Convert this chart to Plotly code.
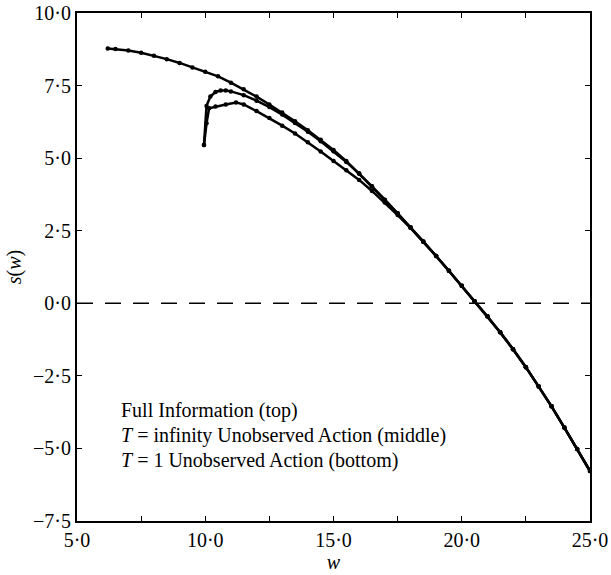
import plotly.graph_objects as go

# wage grid and s(w) for the three information structures
w_full = [6.2, 6.5, 7.0, 7.5, 8.0, 8.5, 9.0, 9.5, 10.0, 10.5, 11.0, 11.5, 12.0, 12.5,
          13.0, 13.5, 14.0, 14.5, 15.0, 15.5, 16.0, 16.5, 17.0, 17.5, 18.0, 18.5,
          19.0, 19.5, 20.0, 20.5, 21.0, 21.5, 22.0, 22.5, 23.0, 23.5, 24.0, 24.5, 25.0]
s_full = [8.78, 8.76, 8.71, 8.63, 8.53, 8.41, 8.28, 8.12, 7.98, 7.82, 7.60, 7.37, 7.12, 6.85,
          6.57, 6.27, 5.96, 5.63, 5.28, 4.90, 4.48, 4.03, 3.57, 3.10, 2.62, 2.13,
          1.63, 1.12, 0.60, 0.07, -0.45, -1.00, -1.58, -2.20, -2.87, -3.55, -4.28, -5.02, -5.78]

w_inf = [9.95, 10.05, 10.2, 10.4, 10.6, 10.8, 11.0, 11.5, 12.0, 12.5, 13.0, 13.5, 14.0,
         14.5, 15.0, 15.5, 16.0, 16.5, 17.0, 17.5, 18.0, 18.5, 19.0, 19.5, 20.0, 20.5,
         21.0, 21.5, 22.0, 22.5, 23.0, 23.5, 24.0, 24.5, 25.0]
s_inf = [5.45, 6.80, 7.12, 7.28, 7.33, 7.33, 7.30, 7.17, 6.98, 6.76, 6.50, 6.21, 5.91,
         5.58, 5.24, 4.87, 4.46, 4.02, 3.56, 3.10, 2.62, 2.13, 1.63, 1.12, 0.60, 0.07,
         -0.45, -1.00, -1.58, -2.20, -2.87, -3.55, -4.28, -5.02, -5.78]

w_one = [9.95, 10.05, 10.15, 10.4, 10.8, 11.2, 11.5, 12.0, 12.5, 13.0, 13.5, 14.0, 14.5,
         15.0, 15.5, 16.0, 16.5, 17.0, 17.5, 18.0, 18.5, 19.0, 19.5, 20.0, 20.5,
         21.0, 21.5, 22.0, 22.5, 23.0, 23.5, 24.0, 24.5, 25.0]
s_one = [5.45, 6.20, 6.72, 6.78, 6.85, 6.92, 6.85, 6.62, 6.38, 6.12, 5.85, 5.55, 5.23,
         4.90, 4.58, 4.25, 3.87, 3.47, 3.04, 2.60, 2.12, 1.63, 1.12, 0.60, 0.07,
         -0.45, -1.00, -1.58, -2.20, -2.87, -3.55, -4.28, -5.02, -5.78]

x_ticks = [5, 7.5, 10, 12.5, 15, 17.5, 20, 22.5, 25]
x_ticktext = ["5·0", "", "10·0", "", "15·0", "", "20·0", "", "25·0"]
y_ticks = [-7.5, -5, -2.5, 0, 2.5, 5, 7.5, 10]
y_ticktext = ["\u22127·5", "\u22125·0", "\u22122·5", "0·0", "2·5", "5·0", "7·5", "10·0"]

legend_lines = ["Full Information (top)",
                "<i>T</i> = infinity Unobserved Action (middle)",
                "<i>T</i> = 1 Unobserved Action (bottom)"]

SERIF = "Liberation Serif"

fig = go.Figure()

# zero reference line
fig.add_trace(go.Scatter(x=[5, 25], y=[0, 0], mode="lines",
                         line=dict(color="black", width=1.5, dash="16px,12px"),
                         hoverinfo="skip", showlegend=False))

for wx, sy in [(w_one, s_one), (w_inf, s_inf), (w_full, s_full)]:
    fig.add_trace(go.Scatter(x=wx, y=sy, mode="lines+markers",
                             line=dict(color="black", width=2.5),
                             marker=dict(color="black", size=4.5),
                             showlegend=False))

for i, txt in enumerate(legend_lines):
    fig.add_annotation(x=6.65, y=-3.7 - i * 0.86, xref="x", yref="y", text=txt,
                       showarrow=False, xanchor="left", yanchor="middle",
                       font=dict(family=SERIF, size=20, color="black"))

axis_common = dict(showline=True, linecolor="black", linewidth=2, mirror="ticks",
                   ticks="inside", ticklen=5, tickwidth=1.2, tickcolor="black",
                   showgrid=False, zeroline=False, automargin=False,
                   tickfont=dict(family=SERIF, size=20, color="black"))

fig.update_xaxes(range=[5, 25], tickvals=x_ticks, ticktext=x_ticktext,
                 title=dict(text="<i>w</i>", font=dict(family=SERIF, size=20, color="black"),
                            standoff=4),
                 **axis_common)
fig.update_yaxes(range=[-7.5, 10], tickvals=y_ticks, ticktext=y_ticktext,
                 title=dict(text="<i>s</i>(<i>w</i>)", font=dict(family=SERIF, size=20, color="black"),
                            standoff=6),
                 **axis_common)

fig.update_layout(width=611, height=575,
                  margin=dict(l=77, r=21, t=13, b=54),
                  plot_bgcolor="white", paper_bgcolor="white")

fig.write_html("out.html")
